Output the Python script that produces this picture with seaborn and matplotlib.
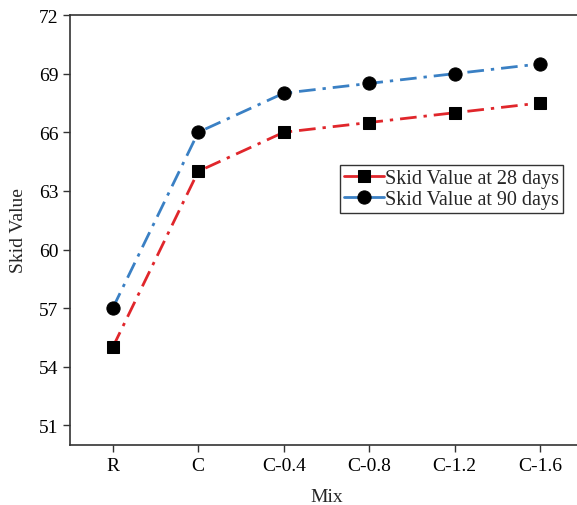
import matplotlib
matplotlib.use("Agg")
import matplotlib.pyplot as plt
import seaborn as sns
import pandas as pd

mixes = ["R", "C", "C-0.4", "C-0.8", "C-1.2", "C-1.6"]
skid_28 = [55, 64, 66, 66.5, 67, 67.5]
skid_90 = [57, 66, 68, 68.5, 69, 69.5]
yticks = [51, 54, 57, 60, 63, 66, 69, 72]

sns.set_style("ticks")
plt.rcParams['font.family'] = ['Liberation Serif', 'DejaVu Serif']

fig = plt.figure(figsize=(5.77, 5.06), dpi=100)
ax = fig.add_axes([70/577, 1-446/506, 513/577, 430/506])

df28 = pd.DataFrame({"Mix": mixes, "val": skid_28})
df90 = pd.DataFrame({"Mix": mixes, "val": skid_90})

dash = (0, (6, 2.5, 1.2, 2.5))
sns.lineplot(data=df28, x="Mix", y="val", ax=ax, color="#e0262b", linestyle=dash,
             linewidth=2, marker="s", markersize=9, markerfacecolor="black", markeredgecolor="black",
             label="Skid Value at 28 days")
sns.lineplot(data=df90, x="Mix", y="val", ax=ax, color="#3a80c4", linestyle=dash,
             linewidth=2, marker="o", markersize=9.5, markerfacecolor="black", markeredgecolor="black",
             label="Skid Value at 90 days")

ax.set_xlim(-0.5, 5.5)
ax.set_ylim(50, 72)
ax.set_yticks(yticks)
ax.set_xlabel("Mix", fontsize=14, labelpad=10)
ax.set_ylabel("Skid Value", fontsize=14, labelpad=8)
ax.tick_params(labelsize=14, direction="out", length=5, width=1, colors="#333333", labelcolor="black")
for s in ["left", "bottom", "top"]:
    ax.spines[s].set_color("#333333")
    ax.spines[s].set_linewidth(1.2)
ax.spines["right"].set_visible(False)

leg = ax.legend(loc="upper left", bbox_to_anchor=(0.526, 0.651), fontsize=14.5, frameon=True,
                fancybox=False, edgecolor="black", handlelength=2.0, handletextpad=0.05,
                borderpad=0.2, labelspacing=0.1, borderaxespad=0)
leg.get_frame().set_linewidth(1)
for h in leg.get_lines():
    h.set_linestyle("-")

fig.savefig("out.png", dpi=100)
